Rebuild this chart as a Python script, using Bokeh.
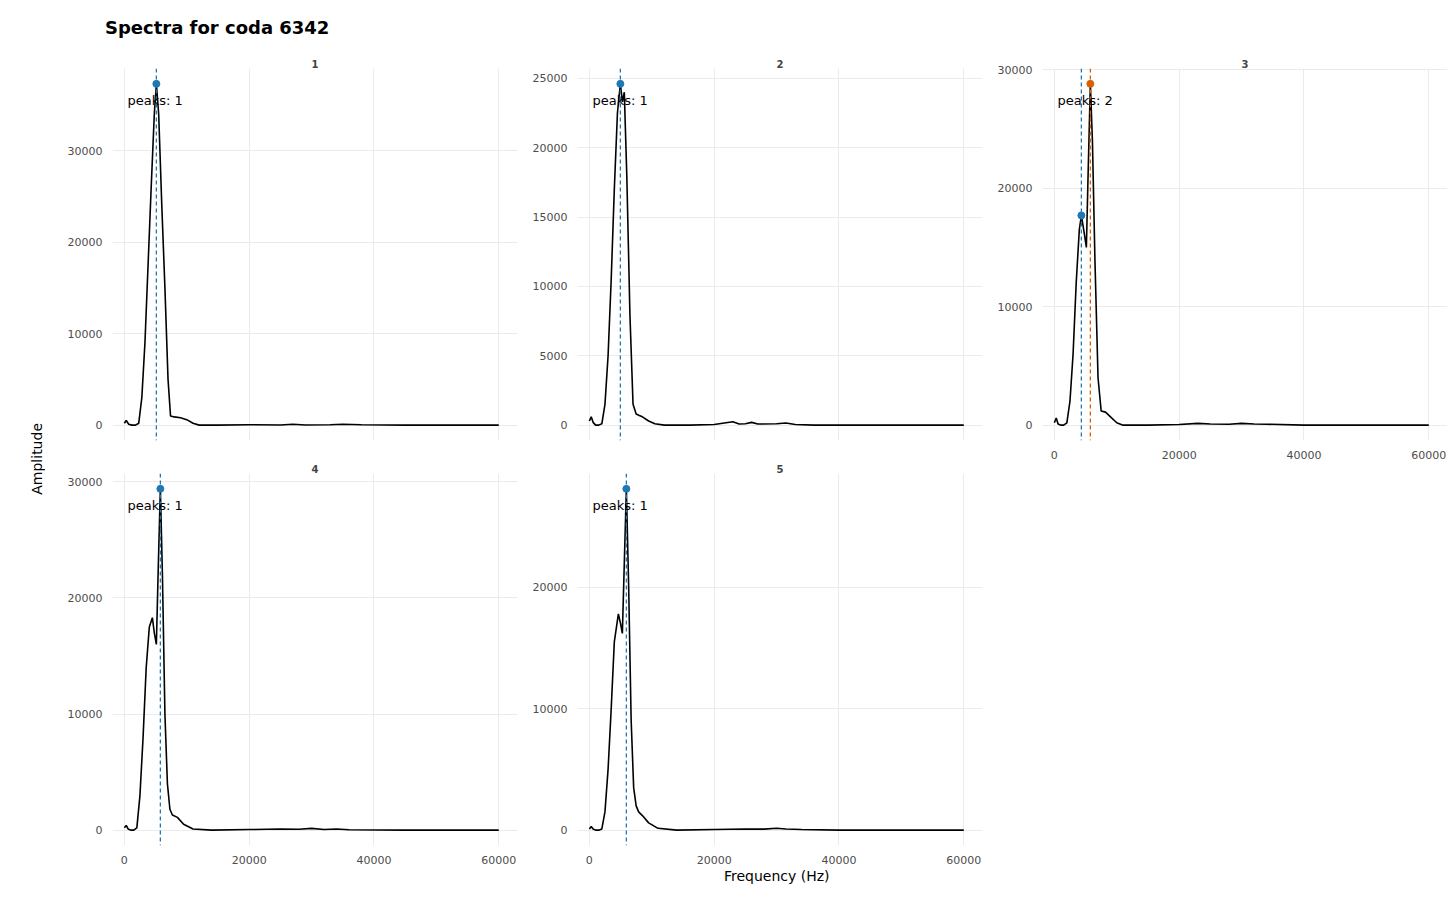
from bokeh.plotting import figure
from bokeh.layouts import column, row
from bokeh.models import Div, Span, Range1d, FixedTicker, Label
from bokeh.embed import file_html
from bokeh.resources import INLINE

FONT = "DejaVu Sans"
BLUE = "#1f78b4"
ORANGE = "#d95f02"

panel_names = ["1", "2", "3", "4", "5"]

f1 = [0,300,700,1200,1800,2300,2800,3300,3800,4300,4800,5130,5500,6000,6500,7000,7400,8000,9000,10000,11000,12000,15000,20000,25000,27000,29000,33000,35000,38000,45000,55000,60000]
a1 = [200,500,100,0,0,200,3000,9000,17500,26000,34000,37300,34000,24000,15000,5000,1000,900,800,600,200,0,0,50,20,100,20,50,100,40,0,0,0]
f2 = [0,300,600,1000,1500,2000,2500,3000,3500,4000,4500,4970,5300,5600,6000,6500,7000,7500,8000,8500,9500,10500,12000,16000,20000,23000,24000,25000,26000,27000,30000,31500,33000,36000,45000,60000]
a2 = [300,600,200,0,0,100,1500,5000,10500,17000,22500,24600,23300,24000,18000,8000,1500,800,700,600,300,100,0,0,50,250,80,100,200,80,100,150,50,0,0,0]
f3 = [0,300,600,1000,1500,2000,2500,3000,3500,4000,4330,4700,5130,5400,5770,6100,6500,7000,7500,8200,9000,10000,11000,15000,20000,23000,25000,28000,30000,32000,34000,40000,60000]
a3 = [200,600,100,0,0,200,2000,6000,12000,16500,17700,16500,15000,21000,28800,24000,14000,4000,1200,1100,700,200,0,0,50,150,100,80,150,100,80,0,0]
f4 = [0,300,600,1000,1500,2000,2500,3000,3500,4000,4490,4800,5130,5450,5770,6100,6500,6900,7300,7700,8500,9500,11000,14000,20000,25000,28000,30000,32000,34000,36000,45000,60000]
a4 = [200,400,100,0,0,200,3000,8000,14000,17500,18300,17000,16000,23000,29400,22000,10000,4000,1800,1300,1100,500,100,0,50,100,80,150,50,100,30,0,0]
f5 = [0,300,600,1000,1500,2000,2500,3000,3500,4000,4650,5000,5290,5600,5930,6300,6700,7100,7500,7900,8500,9500,11000,14000,20000,25000,28000,30000,31500,34000,40000,60000]
a5 = [100,300,100,0,0,100,1500,5000,10000,15500,17800,17000,16200,22000,28100,20000,9000,3500,2000,1500,1200,600,150,0,50,100,80,150,100,50,0,0]

peak_freqs = [[5130], [4970], [4330, 5770], [5770], [5930]]
peak_amps = [[37300], [24600], [17700, 28800], [29400], [28100]]
y_ticks = [[0,10000,20000,30000], [0,5000,10000,15000,20000,25000], [0,10000,20000,30000],
           [0,10000,20000,30000], [0,10000,20000]]
x_ticks = [0, 20000, 40000, 60000]
freqs = [f1, f2, f3, f4, f5]
amps = [a1, a2, a3, a4, a5]
show_x = [False, False, True, True, True]

def make(i):
    left = 60 if i in (0, 3) else 57
    right = 0 if i == 2 else 3
    ymax = max(amps[i])
    p = figure(frame_width=405, frame_height=372, output_backend="svg", toolbar_location=None,
               x_range=Range1d(-1900, 63000), y_range=Range1d(-0.045 * ymax, 1.045 * ymax),
               min_border_left=left, min_border_right=right, min_border_top=0, min_border_bottom=0,
               title=panel_names[i])
    p.title.align = "center"
    p.title.text_font = FONT
    p.title.text_font_size = "10px"
    p.title.text_font_style = "bold"
    p.title.standoff = 2
    p.outline_line_color = None
    for ax in (p.xaxis[0], p.yaxis[0]):
        ax.axis_line_color = None
        ax.major_tick_line_color = None
        ax.minor_tick_line_color = None
        ax.major_label_text_font = FONT
        ax.major_label_text_font_size = "11px"
        ax.major_label_text_color = "#4d4d4d"
        ax.major_label_standoff = 4
    p.xaxis.ticker = FixedTicker(ticks=x_ticks)
    p.yaxis.ticker = FixedTicker(ticks=y_ticks[i])
    p.xaxis.major_label_overrides = {t: str(t) for t in x_ticks}
    p.yaxis.major_label_overrides = {t: str(t) for t in y_ticks[i]}
    if not show_x[i]:
        p.xaxis.major_label_text_color = None
    p.xgrid.ticker = FixedTicker(ticks=x_ticks)
    p.ygrid.ticker = FixedTicker(ticks=y_ticks[i])
    p.grid.grid_line_color = "#ebebeb"
    p.line(freqs[i], amps[i], line_color="black", line_width=1.6)
    cols = [BLUE, ORANGE]
    for k, (pf, pa) in enumerate(zip(peak_freqs[i], peak_amps[i])):
        p.add_layout(Span(location=pf, dimension="height", line_color=cols[k],
                          line_dash="4 3", line_width=1.3))
        p.scatter([pf], [pa], size=7, color=cols[k])
    p.add_layout(Label(x=500, y=0.95 * ymax, text="peaks: %d" % len(peak_freqs[i]),
                       text_font=FONT, text_font_size="13px", text_baseline="middle",
                       text_color="black"))
    return p

figs = [make(i) for i in range(5)]

title = Div(text="<b>Spectra for coda 6342</b>", width=1440, height=56, margin=0,
            styles={"font-family": FONT, "font-size": "18px", "padding-left": "105px",
                    "padding-top": "15px", "color": "black"})
amp = Div(text='<div style="height:806px;width:52px;display:flex;align-items:center;justify-content:flex-end;">'
               '<span style="writing-mode:vertical-rl;transform:rotate(180deg);font-family:DejaVu Sans;'
               'font-size:14px;color:black;margin-right:5px">Amplitude</span></div>',
          width=52, height=806, margin=0)
xlab = Div(text="Frequency (Hz)", width=1440, height=24, margin=0,
           styles={"font-family": FONT, "font-size": "14px", "padding-left": "724px", "color": "black"})

grid = column(row(figs[0], figs[1], figs[2]), row(figs[3], figs[4]))
layout = column(title, row(amp, grid), xlab)
open("out.html", "w").write(file_html(layout, INLINE))
